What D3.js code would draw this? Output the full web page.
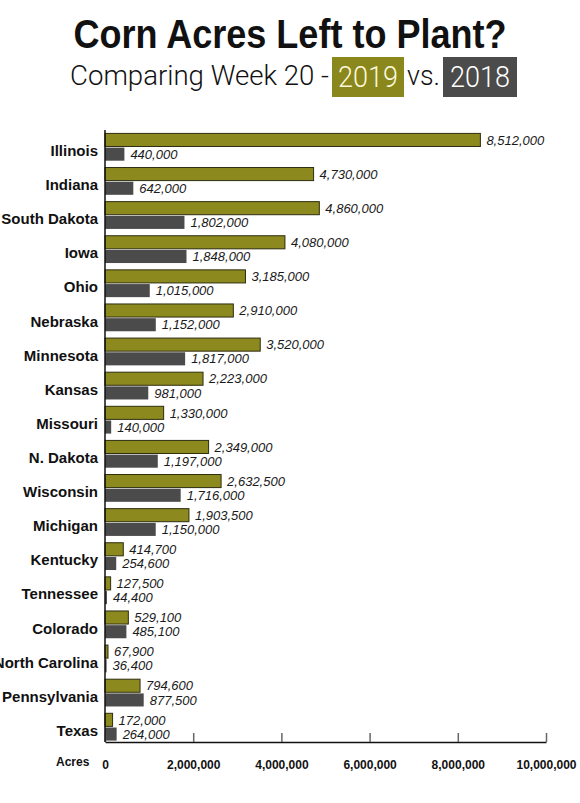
<!DOCTYPE html>
<html>
<head>
<meta charset="utf-8">
<script src="https://cdn.jsdelivr.net/npm/d3@7"></script>
<style>
  body { margin: 0; background: #fff; }
  svg { display: block; }
</style>
</head>
<body>
<div id="chart"></div>
<script>
const states = ["Illinois", "Indiana", "South Dakota", "Iowa", "Ohio", "Nebraska", "Minnesota", "Kansas", "Missouri",
    "N. Dakota", "Wisconsin", "Michigan", "Kentucky", "Tennessee", "Colorado", "North Carolina", "Pennsylvania", "Texas"];
const acres2019 = [8512000, 4730000, 4860000, 4080000, 3185000, 2910000, 3520000, 2223000, 1330000,
    2349000, 2632500, 1903500, 414700, 127500, 529100, 67900, 794600, 172000];
const acres2018 = [440000, 642000, 1802000, 1848000, 1015000, 1152000, 1817000, 981000, 140000,
    1197000, 1716000, 1150000, 254600, 44400, 485100, 36400, 877500, 264000];
const years = ["2019", "2018"];
const tickValues = [0, 2000000, 4000000, 6000000, 8000000, 10000000];

const width = 580;
const height = 803;
const colors = { "2019": "#8c891f", "2018": "#4b4b4b" };

const svg = d3.select("#chart")
    .append("svg")
    .attr("width", width)
    .attr("height", height);

// title
svg.append("text")
    .attr("x", 290)
    .attr("y", 48)
    .attr("text-anchor", "middle")
    .attr("textLength", 433)
    .attr("lengthAdjust", "spacingAndGlyphs")
    .style("font-family", "'Liberation Sans Narrow', 'Liberation Sans', sans-serif")
    .style("font-weight", "bold")
    .style("font-size", "41px")
    .attr("fill", "#111")
    .text("Corn Acres Left to Plant?");

const subFont = "Roboto, 'Liberation Sans', sans-serif";
svg.append("text")
    .attr("x", 70)
    .attr("y", 85)
    .attr("textLength", 259)
    .attr("lengthAdjust", "spacingAndGlyphs")
    .style("font-family", subFont)
    .style("font-weight", 300)
    .style("font-size", "28px")
    .attr("fill", "#111")
    .text("Comparing Week 20 -");

svg.append("rect").attr("x", 332).attr("y", 57).attr("width", 72).attr("height", 40).attr("fill", "#8a871d");
svg.append("text")
    .attr("x", 368).attr("y", 87)
    .attr("text-anchor", "middle")
    .attr("textLength", 60)
    .attr("lengthAdjust", "spacingAndGlyphs")
    .style("font-family", subFont).style("font-weight", 300).style("font-size", "30px")
    .attr("fill", "#fdf8dc")
    .text("2019");
svg.append("text")
    .attr("x", 407).attr("y", 85)
    .attr("textLength", 33)
    .attr("lengthAdjust", "spacingAndGlyphs")
    .style("font-family", subFont).style("font-weight", 300).style("font-size", "28px")
    .attr("fill", "#111")
    .text("vs.");
svg.append("rect").attr("x", 443).attr("y", 57).attr("width", 74).attr("height", 40).attr("fill", "#4b4b4b");
svg.append("text")
    .attr("x", 480).attr("y", 87)
    .attr("text-anchor", "middle")
    .attr("textLength", 60)
    .attr("lengthAdjust", "spacingAndGlyphs")
    .style("font-family", subFont).style("font-weight", 300).style("font-size", "30px")
    .attr("fill", "#fff")
    .text("2018");

// scales
const xScale = d3.scaleLinear()
    .domain([0, 10000000])
    .range([105, 546]);

const yScale = d3.scaleBand()
    .domain(states)
    .range([130, 744])
    .paddingInner(0.2)
    .paddingOuter(0.1);

const yInner = d3.scaleBand()
    .domain(years)
    .range([0, yScale.bandwidth()])
    .paddingInner(0.08);

const data = states.map((s, i) => ({ state: s, "2019": acres2019[i], "2018": acres2018[i] }));
const fmt = d3.format(",");

const rows = svg.selectAll(".row")
    .data(data)
    .enter().append("g")
    .attr("class", "row")
    .attr("transform", d => `translate(0,${yScale(d.state)})`);

rows.append("text")
    .attr("x", 98)
    .attr("y", yScale.bandwidth() / 2 + 9)
    .attr("text-anchor", "end")
    .style("font-family", "'Liberation Sans', Arial, sans-serif")
    .style("font-weight", "bold")
    .style("font-size", "15px")
    .attr("fill", "#111")
    .text(d => d.state);

years.forEach(yr => {
    rows.append("rect")
        .attr("x", xScale(0))
        .attr("y", yInner(yr))
        .attr("width", d => xScale(d[yr]) - xScale(0))
        .attr("height", yInner.bandwidth())
        .attr("fill", colors[yr])
        .attr("stroke", yr === "2019" ? "#2e2d10" : "none")
        .attr("stroke-width", 1);

    rows.append("text")
        .attr("x", d => xScale(d[yr]) + 6)
        .attr("y", yInner(yr) + yInner.bandwidth() / 2)
        .attr("dy", "0.36em")
        .style("font-family", "'Liberation Sans', Arial, sans-serif")
        .style("font-style", "italic")
        .style("font-size", "13px")
        .attr("fill", "#1a1a1a")
        .text(d => fmt(d[yr]));
});

// axes
const axisY = 742;
const xAxis = svg.append("g")
    .attr("transform", `translate(0,${axisY})`)
    .call(d3.axisBottom(xScale)
        .tickValues(tickValues)
        .tickSizeInner(-9)
        .tickSizeOuter(0)
        .tickFormat(d3.format(",")));

xAxis.select(".domain").attr("stroke", "#111").attr("stroke-width", 1.5);
xAxis.selectAll(".tick line").attr("stroke", "#666").attr("stroke-width", 1.5);
xAxis.selectAll(".tick text")
    .attr("y", 18)
    .style("font-family", "'Liberation Sans', Arial, sans-serif")
    .style("font-weight", "bold")
    .style("font-size", "12px")
    .attr("fill", "#111");

svg.append("line")
    .attr("x1", xScale(0)).attr("x2", xScale(0))
    .attr("y1", 130).attr("y2", axisY)
    .attr("stroke", "#111")
    .attr("stroke-width", 1.5);

svg.append("text")
    .attr("x", 56)
    .attr("y", 766)
    .style("font-family", "'Liberation Sans', Arial, sans-serif")
    .style("font-weight", "bold")
    .style("font-size", "12px")
    .attr("fill", "#111")
    .text("Acres");
</script>
</body>
</html>
